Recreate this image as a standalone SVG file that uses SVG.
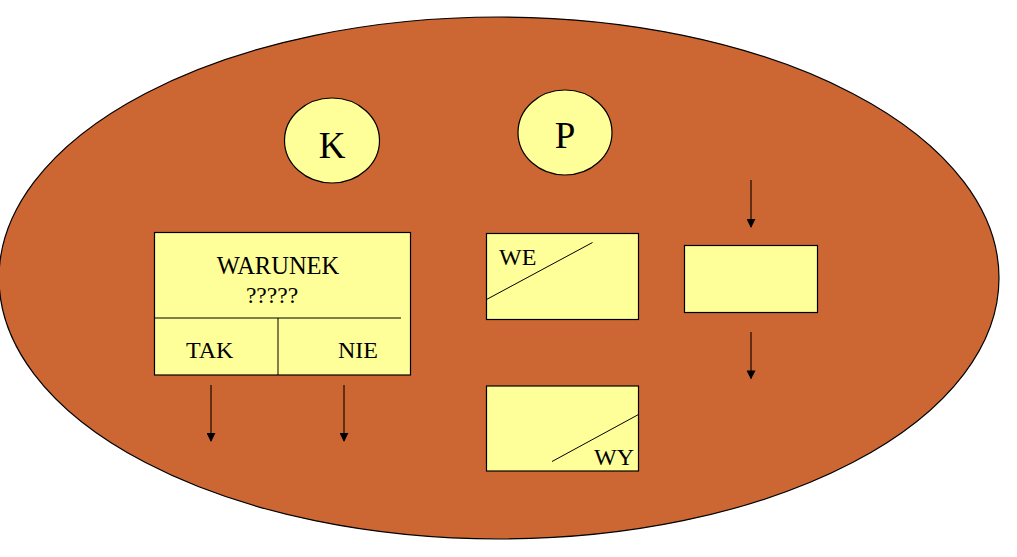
<svg xmlns="http://www.w3.org/2000/svg" width="1017" height="557" viewBox="0 0 1017 557">
<defs>
<marker id="ah" viewBox="0 0 10 10" refX="9" refY="5" markerWidth="9" markerHeight="9" markerUnits="userSpaceOnUse" orient="auto">
<path d="M0,0 L10,5 L0,10 z" fill="#000"/>
</marker>
<style>
.bg{fill:#CC6633;stroke:#000;stroke-width:1.2}
.nd{fill:#FFFF99;stroke:#000;stroke-width:1.2}
.ln{stroke:#000;stroke-width:1;fill:none}
.cn{stroke:#1a0a00;stroke-width:1.2;fill:none;marker-end:url(#ah)}
.t{font-family:"Liberation Serif","Times New Roman",serif;fill:#000}
</style>
</defs>
<rect width="1017" height="557" fill="#fff"/>
<ellipse class="bg" cx="499" cy="278" rx="500" ry="261"/>
<g id="nodeK">
<ellipse class="nd" cx="332" cy="140.5" rx="47.5" ry="42.5"/>
<text class="t" x="332" y="158" font-size="37" text-anchor="middle">K</text>
</g>
<g id="nodeP">
<ellipse class="nd" cx="565" cy="132.5" rx="47" ry="42.5"/>
<text class="t" x="565" y="148" font-size="37" text-anchor="middle">P</text>
</g>
<g id="warunek">
<rect class="nd" x="154.5" y="232.5" width="256" height="142.5"/>
<line class="ln" x1="154.5" y1="318" x2="401" y2="318"/>
<line class="ln" x1="278" y1="318" x2="278" y2="375"/>
<text class="t" x="278" y="274" font-size="24.5" text-anchor="middle">WARUNEK</text>
<text class="t" x="272" y="303" font-size="23.5" text-anchor="middle">?????</text>
<text class="t" x="186" y="358" font-size="24">TAK</text>
<text class="t" x="338" y="358" font-size="24">NIE</text>
</g>
<g id="we">
<rect class="nd" x="486.5" y="233.5" width="152" height="86"/>
<line class="ln" x1="486.5" y1="299.5" x2="592.5" y2="242.5"/>
<text class="t" x="499" y="265" font-size="24">WE</text>
</g>
<g id="wy">
<rect class="nd" x="486.5" y="386" width="152" height="85"/>
<line class="ln" x1="552" y1="461.5" x2="638.5" y2="414.5"/>
<text class="t" x="594" y="465" font-size="24">WY</text>
</g>
<g id="proc">
<rect class="nd" x="684.5" y="245.5" width="133" height="67"/>
</g>
<g id="connectors">
<line class="cn" x1="211" y1="385" x2="211" y2="441"/>
<line class="cn" x1="344" y1="385" x2="344" y2="441"/>
<line class="cn" x1="751" y1="180" x2="751" y2="227"/>
<line class="cn" x1="751" y1="332" x2="751" y2="378.5"/>
</g>
</svg>
